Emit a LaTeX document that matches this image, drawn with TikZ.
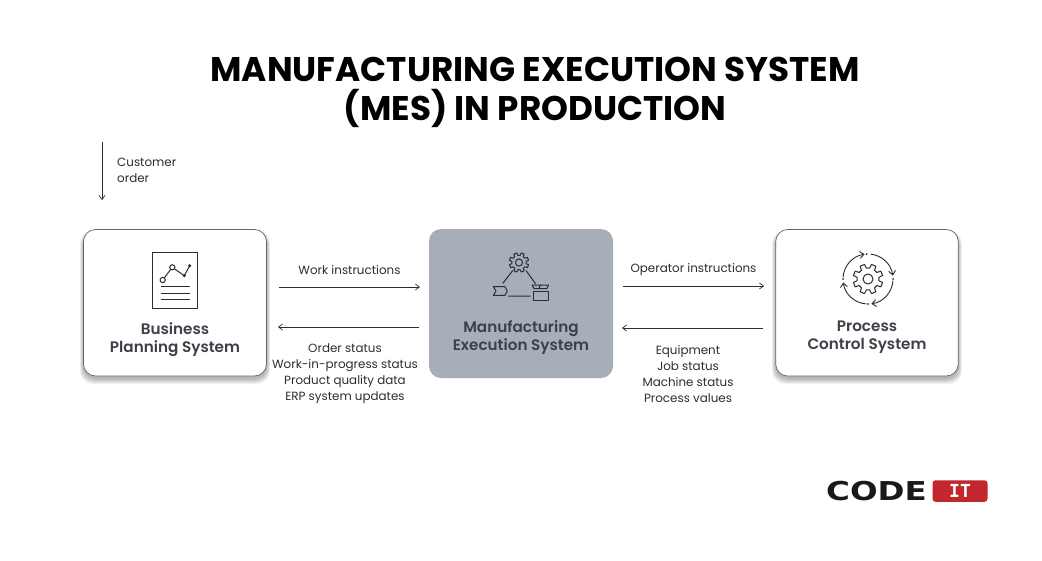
\documentclass[tikz,border=0pt]{standalone}
\usepackage{fontspec}
\setmainfont{Poppins}
\newfontfamily\semib{Poppins SemiBold}
\newfontfamily\logofont{DejaVu Sans}
\newfontfamily\logoserif{DejaVu Sans Mono}
\usetikzlibrary{arrows.meta}
\definecolor{ink}{HTML}{2A2D33}
\definecolor{labelink}{HTML}{3C4048}
\definecolor{midbox}{HTML}{A7AEB9}
\definecolor{logored}{HTML}{C1272D}
\newcommand{\softshadow}[4]{%
  \foreach \g in {6,5,4,3,2,1}{
    \fill[black,opacity=.05,rounded corners=13pt] (#1-\g*.6,#2+3-\g*.3) rectangle (#3+\g*.6,#4+2+\g*1.0);
  }}
\newcommand{\gearpath}[5]{% cx cy rout rin teeth
  \draw[iconline] (#1,#2) ++(0:#4)
    \foreach \k in {1,...,#5}{
      -- ([shift={(#1,#2)}]\k*360/#5-360/#5+22.5-14:#4)
      -- ([shift={(#1,#2)}]\k*360/#5-360/#5+22.5-9:#3)
      -- ([shift={(#1,#2)}]\k*360/#5-360/#5+22.5+9:#3)
      -- ([shift={(#1,#2)}]\k*360/#5-360/#5+22.5+14:#4)
    } -- cycle;}
\tikzset{
  sysbox/.style={rounded corners=12pt,inner sep=0pt},
  whitebox/.style={sysbox,draw=black!60,line width=.7pt,fill=white},
  greybox/.style={sysbox,fill=midbox},
  flow/.style={draw=ink,line width=.7pt,-{Straight Barb[length=4pt,width=6pt,line width=.7pt]}},
  iconline/.style={draw=ink,line width=1pt,line join=round},
  txt/.style={font=\fontsize{11.9}{16}\selectfont,text=ink,align=center,inner sep=0pt},
  boxlabel/.style={font=\semib\fontsize{15.2}{18}\selectfont,text=labelink,align=center,inner sep=0pt},
  titletxt/.style={font=\bfseries\fontsize{34.2}{39}\selectfont,text=black,align=center,inner sep=0pt},
}
\begin{document}
\begin{tikzpicture}[x=1pt,y=-1pt]
\useasboundingbox (0,0) rectangle (1042,560);
\fill[white] (0,0) rectangle (1042,560);

\node[titletxt] (title) at (535,92.5) {MANUFACTURING EXECUTION SYSTEM\\(MES) IN PRODUCTION};

% boxes
\softshadow{83.5}{229.5}{266.5}{376}
\softshadow{775.7}{229.5}{958.3}{376}
\path[whitebox] (83.5,229.5) rectangle (266.5,376);
\path[whitebox] (775.7,229.5) rectangle (958.3,376);
\node[greybox,minimum width=184pt,minimum height=149pt] (mes) at (521,303.5) {};

\node[boxlabel] (l1) at (175,340) {Business\\Planning System};
\node[boxlabel] (l2) at (521,338) {Manufacturing\\Execution System};
\node[boxlabel] (l3) at (867,337) {Process\\Control System};

% arrows
\coordinate (a1s) at (102,142); \coordinate (a1e) at (102,200);
\draw[flow] (a1s) -- (a1e);
\coordinate (a2s) at (279,287); \coordinate (a2e) at (420,287);
\draw[flow] (a2s) -- (a2e);
\coordinate (a3s) at (419,327); \coordinate (a3e) at (278,327);
\draw[flow] (a3s) -- (a3e);
\coordinate (a4s) at (623,286); \coordinate (a4e) at (764,286);
\draw[flow] (a4s) -- (a4e);
\coordinate (a5s) at (763,328); \coordinate (a5e) at (622,328);
\draw[flow] (a5s) -- (a5e);

% texts
\node[txt,align=left,anchor=west] (t1) at (117,170) {Customer\\order};
\node[txt] (t2) at (349.5,270) {Work instructions};
\node[txt] (t3) at (345,374) {Order status\\Work-in-progress status\\Product quality data\\ERP system updates};
\node[txt] (t4) at (693.5,269.5) {Operator instructions};
\node[txt] (t5) at (688,374) {Equipment\\Job status\\Machine status\\Process values};

% icon 1: report
\draw[iconline,fill=white] (152.7,252.5) rectangle (197.3,308.3);
\draw[iconline] (162.7,280) -- (172.3,267.3) -- (184.3,275.7) -- (189.7,265.7);
\draw[iconline,fill=white] (162.7,280) circle (2.6);
\draw[iconline,fill=white] (172.3,267.3) circle (2.6);
\fill[ink] (184.3,275.7) circle (1.7) (189.7,265.7) circle (1.7);
\draw[iconline] (160.7,286.7) -- (190,286.7) (160.7,293) -- (190,293) (160.7,299.5) -- (190,299.5);

% icon 2: triangle
\gearpath{519}{262.5}{9.8}{7.2}{8}
\draw[iconline] (519,262.5) circle (3.6);
\draw[iconline] (512.7,270.5) -- (502.7,283.5) (526,270.5) -- (535.7,284) (508.3,296) -- (530.7,296);
\draw[iconline] (493.3,286.7) -- (505,286.7) -- (507.3,291) -- (505,295.3) -- (493.3,295.3) -- (496,291) -- cycle;
\draw[iconline] (533.3,291) rectangle (548,300.7);
\draw[iconline] (532,285) -- (540.5,285) -- (539,288.5) -- (534,288.5) -- cycle;
\draw[iconline] (540.5,285) -- (548.5,285) -- (547,288.5) -- (539,288.5);

% icon 3: cycle gear
\gearpath{868}{279}{15}{11}{8}
\draw[iconline] (868,279) circle (5);
\tikzset{cyc/.style={draw=ink,line width=.9pt,-{Straight Barb[length=4pt,width=7pt,line width=.9pt]}}}
\draw[cyc,shift={(868,279)}] (-176:25) arc[start angle=-176,end angle=-98,radius=25];
\draw[cyc,shift={(868,279)}] (-84:25) arc[start angle=-84,end angle=-8,radius=25];
\draw[cyc,shift={(868,279)}] (4:25) arc[start angle=4,end angle=82,radius=25];
\draw[cyc,shift={(868,279)}] (94:25) arc[start angle=94,end angle=172,radius=25];
\fill[ink] (866.7,254) circle (1) (893,279) circle (1) (868,304) circle (1) (843,279) circle (1);

% logo
\node[inner sep=0pt,text=black!90] (code) at (876.5,491) {\scalebox{1.25}[1]{\logofont\bfseries\fontsize{26}{26}\selectfont CODE}};
\node[fill=logored,rounded corners=3pt,minimum width=55pt,minimum height=21.5pt,inner sep=0pt,text=white] (it) at (960,491) {\logoserif\bfseries\fontsize{18}{18}\selectfont IT};
\end{tikzpicture}
\end{document}
